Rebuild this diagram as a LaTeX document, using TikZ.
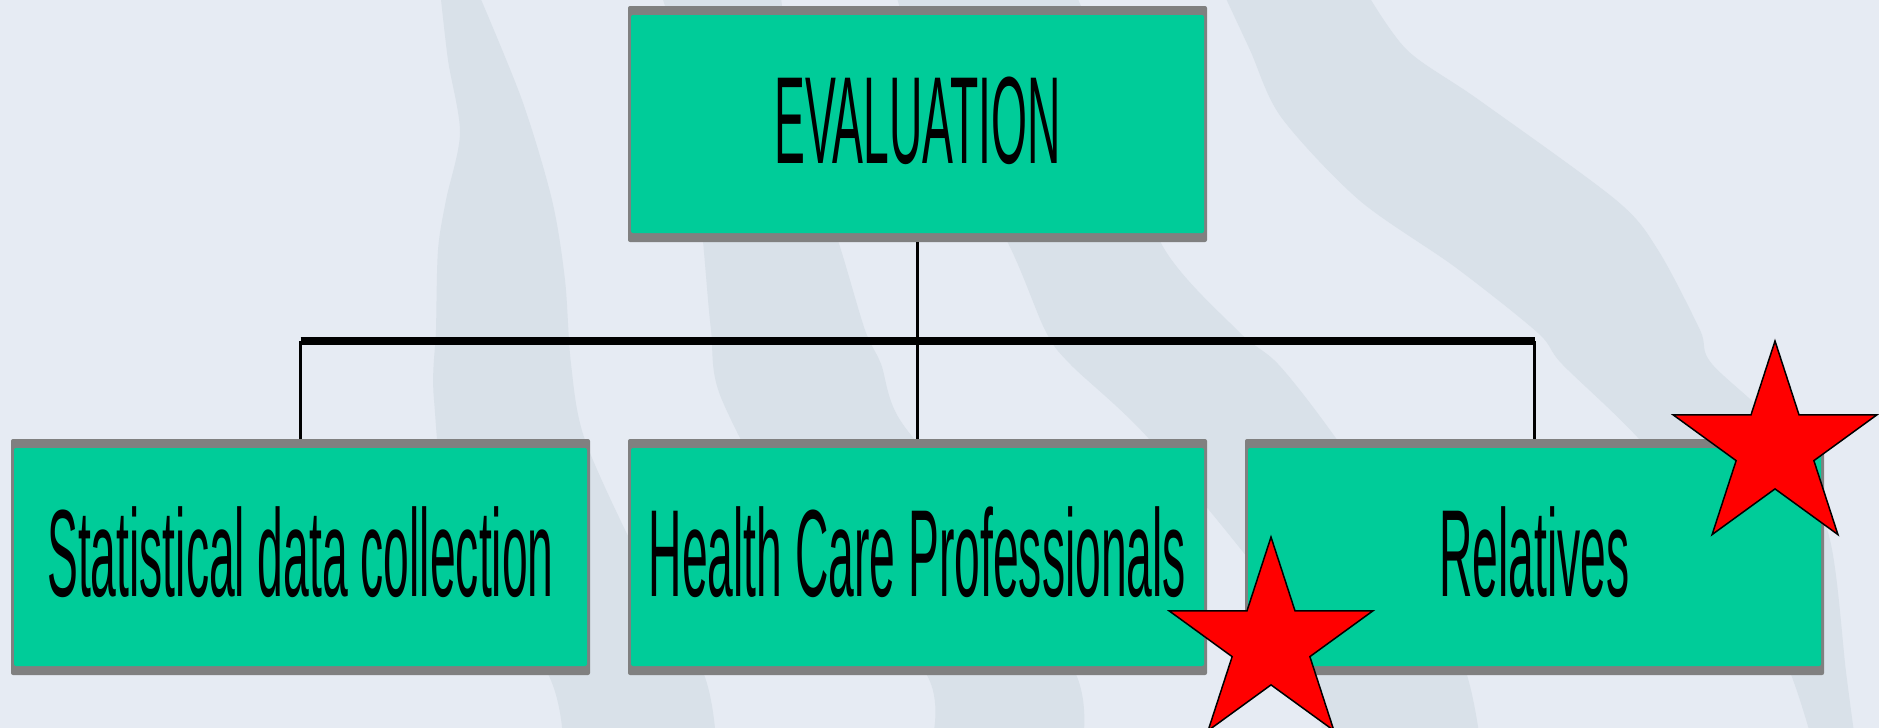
\documentclass[tikz,border=0pt]{standalone}
\usepackage{fontspec}
\newfontfamily\boxfont{Liberation Sans}[FakeStretch=0.373]
\usetikzlibrary{shapes.geometric}
\definecolor{bgcol}{RGB}{230,235,243}
\definecolor{bandcol}{RGB}{217,225,233}
\definecolor{boxgreen}{RGB}{0,204,153}
\definecolor{boxgray}{RGB}{128,128,128}
\begin{document}
\begin{tikzpicture}[x=1pt,y=-1pt,
  orgbox/.style={minimum width=579pt, minimum height=236pt, inner sep=0pt, outer sep=0pt,
    fill=boxgray, rounded corners=2pt,
    path picture={\fill[boxgreen] ([shift={(3pt,-9pt)}]path picture bounding box.north west)
      rectangle ([shift={(-3pt,9pt)}]path picture bounding box.south east);},
    font=\boxfont\fontsize{124}{130}\selectfont, text height=90pt, text depth=12pt},
  thinline/.style={draw=black, line width=2.5pt},
  barline/.style={draw=black, line width=8pt},
  redstar/.style={star, star points=5, star point ratio=2.618, minimum size=214pt,
    inner sep=0pt, outer sep=0pt, fill=red, draw=black, line width=1.5pt}]
\useasboundingbox (0,0) rectangle (1879,728);
\fill[bgcol] (0,0) rectangle (1879,728);
\begin{scope}
\clip (0,0) rectangle (1879,728);
% band 1
\fill[bandcol] plot[smooth] coordinates {(440,-10) (448,60) (460,133) (446,200) (438,250) (436,330) (434,400) (455,540) (547,672) (563,740)}
  -- plot[smooth] coordinates {(716,740) (703,672) (640,560) (585,440) (571,364) (565,280) (552,200) (522,100) (477,-10)} -- cycle;
% band 2
\fill[bandcol] plot[smooth] coordinates {(660,-10) (690,100) (703,241) (711,330) (722,400) (800,540) (925,672) (932,740)}
  -- plot[smooth] coordinates {(1083,740) (1075,672) (980,520) (900,420) (881,364) (865,330) (841,250) (800,120) (780,-10)} -- cycle;
% band 3
\fill[bandcol] plot[smooth] coordinates {(895,-10) (930,100) (1008,243) (1045,330) (1070,364) (1150,440) (1280,600) (1315,672) (1322,740)}
  -- plot[smooth] coordinates {(1480,740) (1466,672) (1420,560) (1330,430) (1278,364) (1237,330) (1161,243) (1119,100) (1074,-10)} -- cycle;
% band 4
\fill[bandcol] plot[smooth] coordinates {(1222,-10) (1250,50) (1281,117) (1359,200) (1455,267) (1538,333) (1562,364) (1640,440) (1740,560) (1790,672) (1812,740)}
  -- plot[smooth] coordinates {(1855,740) (1846,672) (1830,540) (1790,440) (1712,364) (1700,330) (1658,250) (1616,200) (1479,100) (1407,50) (1365,-10)} -- cycle;
\end{scope}
% boxes
\node[orgbox] (top) at (917.5,124) {EVALUATION};
\node[orgbox] (left) at (300.5,557) {Statistical data collection};
\node[orgbox] (mid) at (917.5,557) {Health Care Professionals};
\node[orgbox] (right) at (1534.5,557) {Relatives};
% connectors
\coordinate (bar) at (917.5,341);
\draw[thinline] (top.south) -- (mid.north);
\draw[thinline] (left.north) -- (left.north |- bar);
\draw[thinline] (right.north) -- (right.north |- bar);
\draw[barline] (left.north |- bar) -- (right.north |- bar);
% stars
\node[redstar] (star1) at (1271,644) {};
\node[redstar] (star2) at (1775,448) {};
\end{tikzpicture}
\end{document}
